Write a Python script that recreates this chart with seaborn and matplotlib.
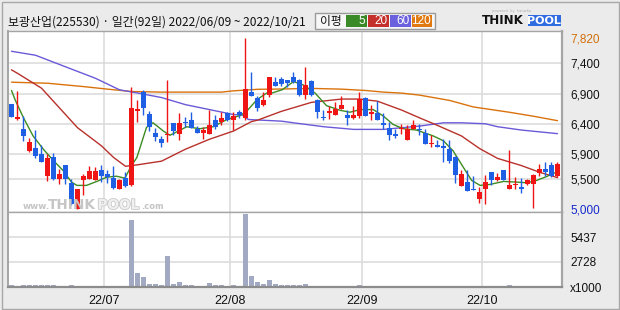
import matplotlib
matplotlib.use('Agg')
import matplotlib.pyplot as plt
import seaborn as sns
import numpy as np
import pandas as pd
from matplotlib.patches import Rectangle
import matplotlib.patheffects as pe

sns.set_theme(style='white')
plt.rcParams['font.family'] = ['Noto Sans CJK KR', 'DejaVu Sans']

# ---------------- data ----------------
title = '보광산업(225530) · 일간(92일) 2022/06/09 ~ 2022/10/21'

open_ = [6734, 6490, 6312, 5960, 6004, 5906, 5554, 5852, 5500, 5728,
         5435, 5010, 5473, 5489, 5473, 5646, 5576, 5511, 5327, 5511,
         5392, 6610, 6918, 6572, 6258, 6160, 6220, 6410, 6231, 6430,
         6474, 6312, 6247, 6236, 6474, 6431, 6583, 6474, 6594, 6496,
         6918, 6826, 6718, 6880, 7091, 7135, 7124, 7167, 7124, 6880,
         7108, 6799, 6507, 6583, 6556, 6653, 6556, 6507, 6540, 6826,
         6561, 6583, 6420, 6339, 6231, 6323, 6139, 6323, 6323, 6247,
         6074, 6052, 6041, 5987, 5857, 5376, 5446, 5338, 5164, 5327,
         5608, 5473, 5646, 5327, 5392, 5365, 5419, 5408, 5598, 5662,
         5728, 5554]
high = [6734, 6945, 6540, 6177, 6301, 6052, 5906, 5922, 5662, 5728,
        5489, 5338, 5581, 5717, 5690, 5728, 5646, 5706, 5500, 5608,
        7005, 6788, 6951, 6610, 6339, 6204, 7124, 6420, 6583, 6518,
        6594, 6366, 6355, 6637, 6555, 6594, 6605, 6605, 6625, 7820,
        7259, 6853, 6934, 7178, 7167, 7178, 7124, 7254, 7140, 7340,
        7124, 6810, 6637, 6702, 6756, 6853, 6637, 6702, 6934, 6842,
        6713, 6772, 6583, 6431, 6323, 6404, 6377, 6464, 6393, 6312,
        6215, 6139, 6160, 6133, 5879, 5646, 5646, 5554, 5365, 5565,
        5619, 5598, 5646, 5971, 5527, 5511, 5500, 5581, 5744, 5771,
        5782, 5782]
low = [6512, 6474, 6123, 5933, 5836, 5771, 5457, 5473, 5419, 5408,
       5067, 5000, 5230, 5489, 5473, 5446, 5435, 5327, 5327, 5365,
       5376, 6431, 6555, 6280, 6123, 6025, 6106, 6215, 6139, 6355,
       6339, 6247, 6160, 6236, 6323, 6377, 6453, 6301, 6496, 6474,
       6853, 6621, 6691, 6842, 7027, 7027, 7016, 7081, 6864, 6810,
       6864, 6501, 6464, 6485, 6556, 6653, 6377, 6485, 6507, 6529,
       6464, 6464, 6323, 6139, 6177, 6231, 6139, 6312, 6215, 6079,
       6025, 6025, 5771, 5760, 5435, 5376, 5294, 5311, 5110, 5094,
       5403, 5457, 5473, 5327, 5327, 5273, 5403, 5013, 5554, 5554,
       5527, 5527]
close = [6512, 6523, 6204, 6106, 5879, 5771, 5841, 5489, 5581, 5489,
         5083, 5327, 5554, 5625, 5625, 5543, 5522, 5354, 5479, 5376,
         6664, 6653, 6669, 6355, 6182, 6085, 6236, 6280, 6420, 6425,
         6339, 6258, 6296, 6377, 6355, 6507, 6474, 6540, 6556, 6972,
         6853, 6664, 6799, 7167, 7027, 7059, 7070, 7097, 6880, 7043,
         6880, 6593, 6496, 6610, 6653, 6718, 6491, 6550, 6810, 6529,
         6594, 6464, 6377, 6220, 6204, 6339, 6312, 6377, 6301, 6079,
         6079, 6025, 6014, 5798, 5570, 5581, 5305, 5311, 5284, 5446,
         5473, 5532, 5473, 5403, 5419, 5327, 5484, 5565, 5662, 5619,
         5543, 5744]
volume = [180, 70, 180, 180, 180, 180, 180, 180, 70, 70,
          180, 70, 70, 70, 70, 70, 70, 70, 70, 70,
          7270, 1530, 1090, 290, 290, 180, 3380, 290, 545, 180,
          180, 70, 70, 400, 180, 180, 70, 180, 70, 7920,
          1160, 510, 290, 725, 290, 180, 180, 180, 180, 290,
          80, 80, 80, 80, 80, 80, 80, 80, 180, 80,
          80, 80, 80, 80, 80, 80, 80, 80, 80, 80,
          80, 80, 80, 80, 80, 80, 80, 80, 80, 80,
          80, 80, 80, 180, 80, 80, 80, 80, 80, 80,
          80, 80]

ma5_x = [0, 0.6, 2, 3.6, 5.3, 7, 8.6, 10, 10.9, 12.5, 14.2, 15.9, 17.5, 18.9,
         20, 20.9, 22.5, 23.6, 25.3, 26.4, 29.2, 31.4, 33.6, 35.9, 38.1, 39.2,
         40.9, 42.5, 43.1, 45.1, 47, 48.6, 50.6, 52.5, 54.75, 56.4, 58.1, 60.3,
         62, 63.6, 65.3, 67.5, 70.3, 72, 73.6, 75.3, 76.7, 78.1, 79.75, 82,
         84.2, 85.9, 87.5, 89.2, 91]
ma5_y = [6951, 6799, 6502, 6204, 5987, 5798, 5636, 5446, 5392, 5392, 5457,
         5527, 5543, 5511, 5717, 5852, 6345, 6420, 6285, 6215, 6355, 6323,
         6355, 6474, 6540, 6610, 6799, 6908, 6900, 6962, 7097, 7043, 6908,
         6702, 6626, 6594, 6637, 6637, 6529, 6393, 6323, 6301, 6204, 6123,
         5960, 5690, 5473, 5392, 5408, 5457, 5446, 5435, 5473, 5538, 5619]
ma20_x = [0, 1, 5, 8, 11, 15, 17, 19, 21, 25, 29, 33, 37, 40, 41, 45, 50,
          55, 58, 61, 65, 68, 71, 75, 78, 81, 85, 88, 91]
ma20_y = [7290, 7233, 6989, 6664, 6340, 6041, 5852, 5706, 5730, 5790, 5987,
          6150, 6285, 6440, 6463, 6609, 6756, 6810, 6810, 6775, 6630, 6502,
          6377, 6204, 5998, 5836, 5717, 5608, 5520]
ma60_x = [0, 4, 9, 14, 18, 21, 25, 29, 33, 37, 38.5, 39.5, 45, 47, 52, 57,
          62, 68, 72, 75, 79, 81, 85, 91]
ma60_y = [7595, 7530, 7340, 7151, 6962, 6910, 6835, 6718, 6637, 6556, 6545,
          6474, 6447, 6420, 6356, 6312, 6312, 6366, 6420, 6420, 6404, 6356,
          6301, 6242]
ma120_x = [0, 6, 12, 16, 20, 25, 28, 35, 37, 41, 45, 50, 55, 59, 62, 65, 68,
           73, 77, 83, 87, 91]
ma120_y = [7087, 7070, 7015, 6973, 6934, 6924, 6924, 6924, 6945, 6970, 6975,
           6985, 6973, 6951, 6924, 6908, 6875, 6788, 6680, 6593, 6528, 6455]

month_labels = ['22/07', '22/08', '22/09', '22/10']
month_start_idx = [16, 37, 59, 79]
price_ticks = [7820, 7400, 6900, 6400, 5900, 5500, 5000]
price_grid = [7400, 6900, 6400, 5900, 5500]
vol_ticks = [0, 2728, 5437]
vol_tick_labels = ['x1000', '2728', '5437']
ma_periods = ['5', '20', '60', '120']

# ---------------- style ----------------
W, H = 620, 310
BG = '#ebebeb'
GRID = '#dadada'
RED = '#f01515'
BLUE = '#1f5fe3'
MA_COL = ['#3d8b22', '#b8312b', '#6a5ad8', '#da720c']
BOX_COL = ['#3a8a28', '#c4302b', '#6a5fdd', '#e07a10']
VOL_COL = '#a2aac3'


def fx(x):
    return x / W


def fy(y):
    return 1 - y / H


fig = plt.figure(figsize=(W / 100, H / 100), dpi=100, facecolor=BG)

ax = fig.add_axes([fx(8), fy(212), 554 / W, 181 / H], facecolor='white')
axv = fig.add_axes([fx(8), fy(287), 554 / W, 75 / H], facecolor='white')

n = len(close)
idx = np.arange(n)
xlim = (-0.583, 91.75)

# grid
for v in price_grid:
    ax.axhline(v, color=GRID, lw=1.1, zorder=0)
for m in month_start_idx:
    ax.axvline(m - 0.5, color=GRID, lw=1.1, zorder=0)
    axv.axvline(m - 0.5, color=GRID, lw=1.1, zorder=0)
for v in vol_ticks[1:]:
    axv.axhline(v, color=GRID, lw=1.1, zorder=0)

# watermark
wm_y = 209
fig.text(fx(23), fy(wm_y), 'www.', fontsize=6.3, color='#c4c4c4',
         family='DejaVu Sans', fontweight='bold', va='baseline', ha='left', zorder=1)
fig.text(fx(48), fy(wm_y), 'THINK', fontsize=9.8, color='#c6c6c6',
         family='DejaVu Sans', fontweight='bold', va='baseline', ha='left', zorder=1)
fig.text(fx(97.5), fy(wm_y), 'POOL', fontsize=9.8, color='#f0f0f0',
         family='DejaVu Sans', fontweight='bold', va='baseline', ha='left', zorder=1,
         path_effects=[pe.withStroke(linewidth=1.2, foreground='#c8c8c8')])
fig.text(fx(141.5), fy(wm_y), '.com', fontsize=6.0, color='#c4c4c4',
         family='DejaVu Sans', fontweight='bold', va='baseline', ha='left', zorder=1)

# moving averages via seaborn
for xs, ys, c in [(ma120_x, ma120_y, MA_COL[3]), (ma60_x, ma60_y, MA_COL[2]),
                  (ma20_x, ma20_y, MA_COL[1]), (ma5_x, ma5_y, MA_COL[0])]:
    df = pd.DataFrame({'x': xs, 'y': ys})
    sns.lineplot(data=df, x='x', y='y', color=c, lw=1.0, ax=ax, zorder=2,
                 estimator=None, sort=False)

# candles
o = np.array(open_)
c_ = np.array(close)
colors = [RED if c_[i] >= o[i] else BLUE for i in range(n)]
ax.vlines(idx, low, high, colors=colors, lw=1.0, zorder=3)
body_bottom = np.minimum(o, c_)
body_h = np.maximum(np.abs(c_ - o), 14)
ax.bar(idx, body_h, bottom=body_bottom, width=0.78, color=colors,
       linewidth=0, zorder=4)

ax.set_xlim(*xlim)
ax.set_ylim(4955, 7928)
ax.set_xlabel('')
ax.set_ylabel('')
ax.set_xticks([])
ax.yaxis.tick_right()
ax.set_yticks(price_ticks)
ax.set_yticklabels([f'{v:,}' for v in price_ticks], family='Liberation Sans',
                   fontsize=8.5)
ax.tick_params(axis='y', length=0, pad=5.8)
for lab, v in zip(ax.get_yticklabels(), price_ticks):
    if v == max(price_ticks):
        lab.set_color('#d2700a')
    elif v == min(price_ticks):
        lab.set_color('#1428cc')
    else:
        lab.set_color('#111111')

# volume
axv.bar(idx, volume, width=0.85, color=VOL_COL, linewidth=0, zorder=2)
axv.set_xlim(*xlim)
axv.set_ylim(0, 8160)
axv.yaxis.tick_right()
axv.set_yticks(vol_ticks)
axv.set_yticklabels(vol_tick_labels, family='Liberation Sans', fontsize=8.5,
                    color='#111111')
axv.set_xticks([m - 0.5 for m in month_start_idx])
axv.set_xticklabels(month_labels, family='Liberation Sans', fontsize=9,
                    color='#111111')
axv.tick_params(axis='both', length=0)
axv.tick_params(axis='x', pad=6)
axv.tick_params(axis='y', pad=5.8)

for a in (ax, axv):
    for s in a.spines.values():
        s.set_color('#a5a5a5')
        s.set_linewidth(1.0)
axv.spines['bottom'].set_color('#8c8c8c')
axv.spines['bottom'].set_linewidth(1.6)
ax.spines['left'].set_linewidth(1.4)
axv.spines['left'].set_linewidth(1.4)
ax.spines['right'].set_linewidth(1.6)
axv.spines['right'].set_linewidth(1.6)

# title
fig.text(fx(8), fy(22.5), title, fontsize=8.6, color='#111111', va='center',
         ha='left')

# MA legend box
fig.patches.append(Rectangle((fx(315), fy(29.3)), 120 / W, 16.6 / H,
                             transform=fig.transFigure, facecolor='#f7f7f7',
                             edgecolor='#9a9a9a', lw=1.0))
fig.text(fx(320), fy(21.3), '이평', fontsize=8.5, color='#111111', va='center',
         ha='left')
box_x = [345.7, 367.7, 390.0, 411.7]
box_w = [21, 21, 20.7, 20.6]
for bx, bw, bc, lab in zip(box_x, box_w, BOX_COL, ma_periods):
    fig.patches.append(Rectangle((fx(bx), fy(27.3)), bw / W, 12.3 / H,
                                 transform=fig.transFigure, facecolor=bc,
                                 edgecolor='none'))
    fig.text(fx(bx + bw - 1.5), fy(21.3), lab, fontsize=8.5, color='white',
             family='Liberation Sans', va='center', ha='right')

# ThinkPool logo
fig.text(fx(482), fy(24.5), 'THINK', fontsize=8.6, color='#111111',
         family='DejaVu Sans', fontweight='bold', va='baseline', ha='left')
fig.patches.append(Rectangle((fx(527.5), fy(25.8)), 33.5 / W, 11 / H,
                             transform=fig.transFigure, facecolor='#2f6ce0',
                             edgecolor='none'))
fig.text(fx(544.2), fy(24.5), 'POOL', fontsize=8.0, color='white',
         family='DejaVu Sans', fontweight='bold', va='baseline', ha='center')
fig.text(fx(492), fy(11.2), 'powered  by  hanwha', fontsize=2.6, color='#b0b0b0',
         family='DejaVu Sans', va='center', ha='left')

# outer frame
fig.patches.append(Rectangle((fx(1.5), fy(308.5)), 617 / W, 307 / H,
                             transform=fig.transFigure, facecolor='none',
                             edgecolor='#a8a8a8', lw=1.0))

fig.savefig('out.png', dpi=100, facecolor=BG)
